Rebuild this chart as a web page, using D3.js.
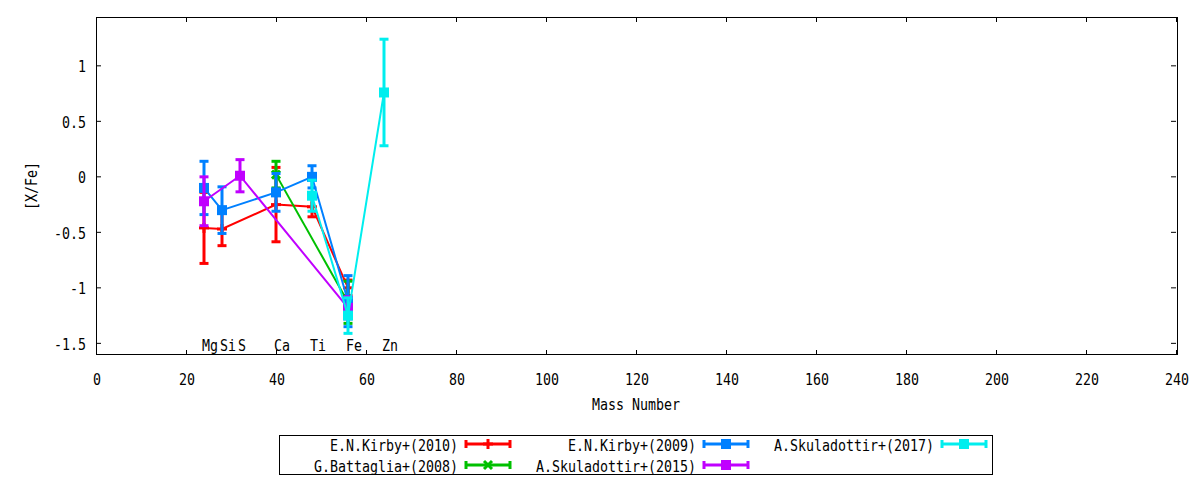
<!DOCTYPE html>
<html><head><meta charset="utf-8">
<script src="https://cdn.jsdelivr.net/npm/d3@7"></script>
<style>
body{margin:0;background:#fff;}
text{font-family:"DejaVu Sans Mono",monospace;font-size:16.5px;fill:#000;}
</style></head>
<body><svg id="c" width="1200" height="480"></svg>
<script>
const elements = ["Mg","Si","S","Ca","Ti","Fe","Zn"];
const massNumbers = [24,28,32,40,48,56,64];
const xTicks = [0,20,40,60,80,100,120,140,160,180,200,220,240];
const yTicks = [-1.5,-1,-0.5,0,0.5,1];

const seriesNames = ["E.N.Kirby+(2010)","G.Battaglia+(2008)","E.N.Kirby+(2009)","A.Skuladottir+(2015)","A.Skuladottir+(2017)"];
const seriesColors = ["#ff0000","#00c000","#0080ff","#c000ff","#00eeee"];
const seriesMarkers = ["plus","cross","square","square","square"];

const kirby2010A = [24,28,40,48,56];
const kirby2010Val = [-0.46,-0.47,-0.25,-0.27,-1.00];
const kirby2010Err = [0.32,0.15,0.335,0.09,0.07];
const battaglia2008A = [40,56];
const battaglia2008Val = [0.02,-1.13];
const battaglia2008Err = [0.12,0.19];
const kirby2009A = [24,28,40,48,56];
const kirby2009Val = [-0.10,-0.30,-0.14,0.00,-1.12];
const kirby2009Err = [0.24,0.21,0.17,0.10,0.23];
const skul2015A = [24,32,56];
const skul2015Val = [-0.22,0.01,-1.18];
const skul2015Err = [0.22,0.145,0.10];
const skul2017A = [48,56,64];
const skul2017Val = [-0.17,-1.25,0.76];
const skul2017Err = [0.14,0.16,0.48];

const seriesData = [
  [kirby2010A,kirby2010Val,kirby2010Err],
  [battaglia2008A,battaglia2008Val,battaglia2008Err],
  [kirby2009A,kirby2009Val,kirby2009Err],
  [skul2015A,skul2015Val,skul2015Err],
  [skul2017A,skul2017Val,skul2017Err]
].map((s,i)=>({name:seriesNames[i],color:seriesColors[i],marker:seriesMarkers[i],
  pts:s[0].map((a,j)=>({a:a,v:s[1][j],e:s[2][j]}))}));

const svg = d3.select("#c");
const L=96,R=1176,T=17,B=355;
const x = d3.scaleLinear().domain([0,240]).range([L,R]);
const y = d3.scaleLinear().domain([-1.605,1.44]).range([B,T]);
const CW = 8.0;
function txt(g,s,px,py,anchor,base){
  const t=g.append("text").attr("x",px).attr("y",py).attr("text-anchor",anchor||"start")
   .text(s).attr("textLength",s.length*CW).attr("lengthAdjust","spacingAndGlyphs");
  if(base) t.attr("dominant-baseline",base);
  return t;
}

// ticks
const g = svg.append("g");
xTicks.forEach(t=>{
  g.append("line").attr("x1",x(t)+0.5).attr("x2",x(t)+0.5).attr("y1",B).attr("y2",B-5).attr("stroke","#000");
  g.append("line").attr("x1",x(t)+0.5).attr("x2",x(t)+0.5).attr("y1",T).attr("y2",T+5).attr("stroke","#000");
  txt(g,String(t),x(t)+1,385,"middle");
});
yTicks.forEach(t=>{
  g.append("line").attr("x1",L).attr("x2",L+5).attr("y1",y(t)).attr("y2",y(t)).attr("stroke","#000");
  g.append("line").attr("x1",R).attr("x2",R-5).attr("y1",y(t)).attr("y2",y(t)).attr("stroke","#000");
  txt(g,String(t),86,y(t)+1,"end","central");
});
g.append("rect").attr("x",L+0.5).attr("y",T+0.5).attr("width",R-L+1).attr("height",B-T-1)
 .attr("fill","none").attr("stroke","#000").attr("stroke-width",1);

txt(g,"Mass Number",(L+R)/2,410,"middle");
g.append("text").attr("transform","translate(37,186) rotate(-90)").attr("text-anchor","middle")
 .attr("textLength",6*CW).attr("lengthAdjust","spacingAndGlyphs").text("[X/Fe]");

// element labels
elements.forEach((el,i)=>{ txt(g,el,x(massNumbers[i])-2,y(-1.5)+2,"start","central"); });

function drawMarker(sel,type,cx,cy,color){
  if(type==="square"){
    sel.append("rect").attr("x",cx-5).attr("y",cy-5).attr("width",10).attr("height",10).attr("fill",color);
  } else if(type==="plus"){
    sel.append("line").attr("x1",cx-5).attr("x2",cx+5).attr("y1",cy).attr("y2",cy).attr("stroke",color).attr("stroke-width",3);
    sel.append("line").attr("x1",cx).attr("x2",cx).attr("y1",cy-5).attr("y2",cy+5).attr("stroke",color).attr("stroke-width",3);
  } else {
    sel.append("line").attr("x1",cx-4).attr("x2",cx+4).attr("y1",cy-4).attr("y2",cy+4).attr("stroke",color).attr("stroke-width",3);
    sel.append("line").attr("x1",cx-4).attr("x2",cx+4).attr("y1",cy+4).attr("y2",cy-4).attr("stroke",color).attr("stroke-width",3);
  }
}

const line = d3.line().x(d=>x(d.a)).y(d=>y(d.v));
const plot = svg.append("g");
seriesData.forEach(s=>{
  const sg = plot.append("g");
  sg.append("path").attr("d",line(s.pts)).attr("fill","none").attr("stroke",s.color).attr("stroke-width",2);
  s.pts.forEach(p=>{
    const cx=x(p.a);
    sg.append("line").attr("x1",cx).attr("x2",cx).attr("y1",y(p.v+p.e)).attr("y2",y(p.v-p.e)).attr("stroke",s.color).attr("stroke-width",3);
    [p.v+p.e,p.v-p.e].forEach(v=>{
      sg.append("line").attr("x1",cx-4.5).attr("x2",cx+4.5).attr("y1",y(v)).attr("y2",y(v)).attr("stroke",s.color).attr("stroke-width",3);
    });
    drawMarker(sg,s.marker,cx,y(p.v),s.color);
  });
});

// legend
const lg = svg.append("g");
lg.append("rect").attr("x",279.5).attr("y",435.5).attr("width",713).attr("height",39).attr("fill","none").attr("stroke","#000");
const colX=[458,696,934], rowY=[444,465];
seriesData.forEach((s,i)=>{
  const col=Math.floor(i/2), row=i%2;
  const tx=colX[col], ty=rowY[row];
  txt(lg,s.name,tx,ty+1,"end","central");
  const x1=tx+8,x2=tx+52,xm=(x1+x2)/2;
  lg.append("line").attr("x1",x1).attr("x2",x2).attr("y1",ty).attr("y2",ty).attr("stroke",s.color).attr("stroke-width",3);
  [x1,x2].forEach(xx=>lg.append("line").attr("x1",xx).attr("x2",xx).attr("y1",ty-4).attr("y2",ty+4).attr("stroke",s.color).attr("stroke-width",3));
  drawMarker(lg,s.marker,xm,ty,s.color);
});
</script></body></html>
